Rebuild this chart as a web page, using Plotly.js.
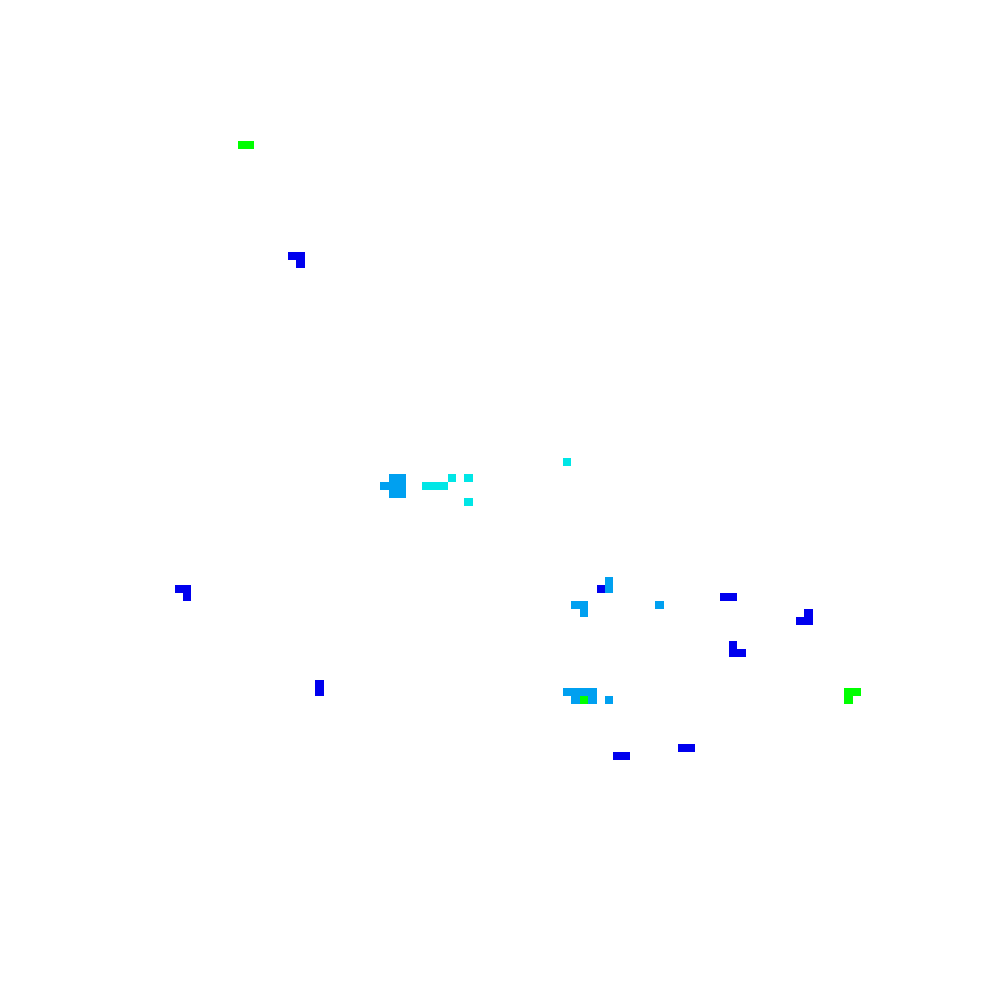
<!DOCTYPE html>
<html>
<head>
<meta charset="utf-8">
<script src="https://cdn.plot.ly/plotly-3.0.1.min.js"></script>
<style>html,body{margin:0;padding:0;background:#fff;}#chart{width:1000px;height:1000px;}</style>
</head>
<body>
<div id="chart"></div>
<script>
// Cell data: column (left edge, in cell units), row index, level (1..4)
var cellCol = [
  18.75, 19.75, 91, 92, 91, 59.5,
  24.75, 25.75, 25.75, 11.25, 12.25, 12.25, 28, 28, 61.5, 76.25, 77.25, 86.25, 85.25, 86.25, 77.25, 77.25, 78.25, 71.25, 72.25, 63.5, 64.5,
  36.75, 37.75, 35.75, 36.75, 37.75, 36.75, 37.75, 62.5, 62.5, 58.5, 59.5, 59.5, 68.5, 57.5, 58.5, 59.5, 60.5, 58.5, 60.5, 62.5,
  40.75, 41.75, 42.75, 43.75, 45.75, 45.75, 57.5
];
var cellRow = [
  5, 5, 74, 74, 75, 75,
  19, 19, 20, 61, 61, 62, 73, 74, 61, 62, 62, 64, 65, 65, 68, 69, 69, 81, 81, 82, 82,
  47, 47, 48, 48, 48, 49, 49, 60, 61, 63, 63, 64, 63, 74, 74, 74, 74, 75, 75, 75,
  48, 48, 48, 47, 47, 50, 45
];
var cellLevel = [
  4, 4, 4, 4, 4, 4,
  1, 1, 1, 1, 1, 1, 1, 1, 1, 1, 1, 1, 1, 1, 1, 1, 1, 1, 1, 1, 1,
  2, 2, 2, 2, 2, 2, 2, 2, 2, 2, 2, 2, 2, 2, 2, 2, 2, 2, 2, 2,
  3, 3, 3, 3, 3, 3, 3
];
var levelColors = ['rgb(0,0,238)', 'rgb(0,160,240)', 'rgb(0,230,230)', 'rgb(0,255,0)'];

var nCols = 100, sub = 4, nRows = 103;
var xs = [], ys = [], z = [];
for (var j = 0; j < nCols * sub; j++) xs.push((j + 0.5) / sub);
for (var r = 0; r < nRows; r++) {
  ys.push(r);
  var row = [];
  for (var j2 = 0; j2 < nCols * sub; j2++) row.push(null);
  z.push(row);
}
for (var i = 0; i < cellCol.length; i++) {
  var j0 = Math.round(cellCol[i] * sub);
  for (var k = 0; k < sub; k++) {
    if (j0 + k < nCols * sub) z[cellRow[i]][j0 + k] = cellLevel[i];
  }
}
var cs = [];
for (var c = 0; c < levelColors.length; c++) cs.push([c / (levelColors.length - 1), levelColors[c]]);

Plotly.newPlot('chart', [{
  type: 'heatmap',
  x: xs, y: ys, z: z,
  zmin: 1, zmax: 4,
  colorscale: cs,
  showscale: false,
  hoverinfo: 'skip'
}], {
  width: 1000, height: 1000,
  margin: {l: 80, r: 80, t: 100, b: 80},
  paper_bgcolor: '#fff', plot_bgcolor: '#fff',
  xaxis: {visible: false, range: [0, 100], showgrid: false, zeroline: false},
  yaxis: {visible: false, range: [102.74, -0.664], showgrid: false, zeroline: false},
  showlegend: false
}, {displayModeBar: false, staticPlot: true});
</script>
</body>
</html>
